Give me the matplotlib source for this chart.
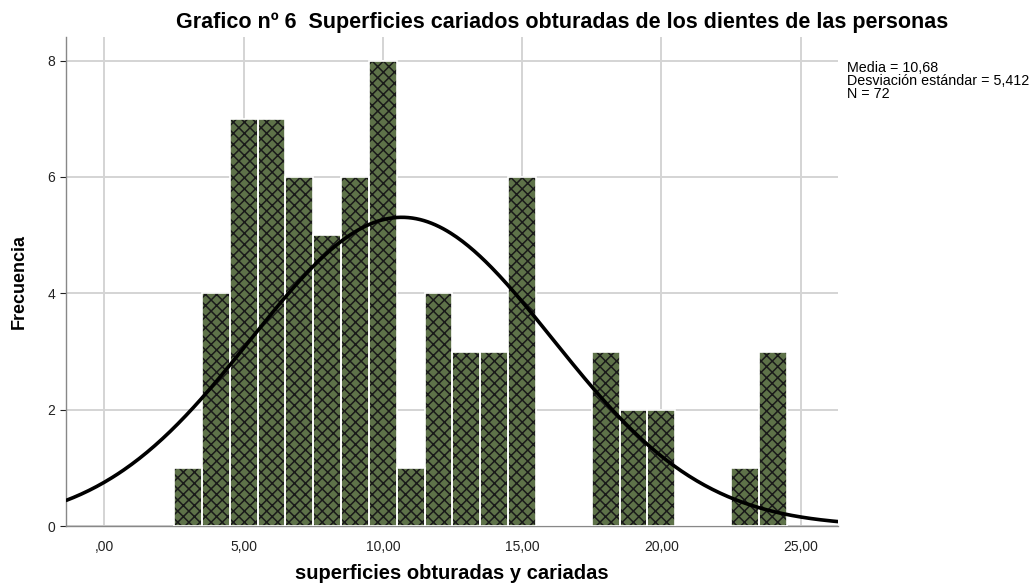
import numpy as np
import matplotlib
matplotlib.use("Agg")
import matplotlib.pyplot as plt

plt.rcParams['font.family'] = ['Liberation Sans', 'DejaVu Sans']
plt.rcParams['hatch.linewidth'] = 1.1

# Data
bin_centers = [3, 4, 5, 6, 7, 8, 9, 10, 11, 12, 13, 14, 15, 16, 17, 18, 19, 20, 21, 22, 23, 24]
counts      = [1, 4, 7, 7, 6, 5, 6, 8, 1, 4, 3, 3, 6, 0, 0, 3, 2, 2, 0, 0, 1, 3]
mean_val = 10.68
sd_val = 5.412
n_val = 72
bin_width = 1.0
xticks = [0, 5, 10, 15, 20, 25]
xtick_labels = [",00", "5,00", "10,00", "15,00", "20,00", "25,00"]
yticks = [0, 2, 4, 6, 8]

fig = plt.figure(figsize=(10.36, 5.86), dpi=100)
ax = fig.add_axes([0.0634, 0.1019, 0.7456, 0.8345])

ax.set_xlim(-1.39, 26.35)
ax.set_ylim(0, 8.4)

ax.set_axisbelow(True)
ax.grid(True, color='#d4d4d4', linewidth=1.4)

# hatched fill (hatch colour follows edgecolor)
ax.bar(bin_centers, counts, width=bin_width, facecolor='#5e7249', edgecolor='#1a1a1a',
       linewidth=0, hatch='xxx', zorder=2)
# white outlines between bars
ax.bar(bin_centers, counts, width=bin_width, facecolor='none', edgecolor='white',
       linewidth=1.2, zorder=3)

xs = np.linspace(-1.39, 26.35, 400)
ys = n_val * bin_width / (sd_val * np.sqrt(2 * np.pi)) * np.exp(-0.5 * ((xs - mean_val) / sd_val) ** 2)
ax.plot(xs, ys, color='black', linewidth=2.6, zorder=4, solid_capstyle='butt')

ax.set_xticks(xticks)
ax.set_xticklabels(xtick_labels)
ax.set_yticks(yticks)
ax.tick_params(axis='x', length=0, labelsize=10, pad=10, colors='#222222')
ax.tick_params(axis='y', length=4, labelsize=10, colors='#222222', width=0.8)
for s in ['top', 'right']:
    ax.spines[s].set_visible(False)
ax.spines['left'].set_color('#888888')
ax.spines['bottom'].set_color('#888888')
ax.spines['left'].set_linewidth(1.0)
ax.spines['bottom'].set_linewidth(1.0)

ax.set_ylabel("Frecuencia", fontsize=13, fontweight='bold', labelpad=14)
fig.text(0.4357, 0.0205, "superficies obturadas y cariadas", ha='center', va='center',
         fontsize=14.5, fontweight='bold')

fig.text(0.5425, 0.962, "Grafico nº 6  Superficies cariados obturadas de los dientes de las personas",
         ha='center', va='center', fontsize=15.5, fontweight='bold')

fig.text(0.8175, 0.896,
         "Media = 10,68\nDesviación estándar = 5,412\nN = 72",
         ha='left', va='top', fontsize=10.3, linespacing=0.9)

fig.savefig("out.png", dpi=100)
